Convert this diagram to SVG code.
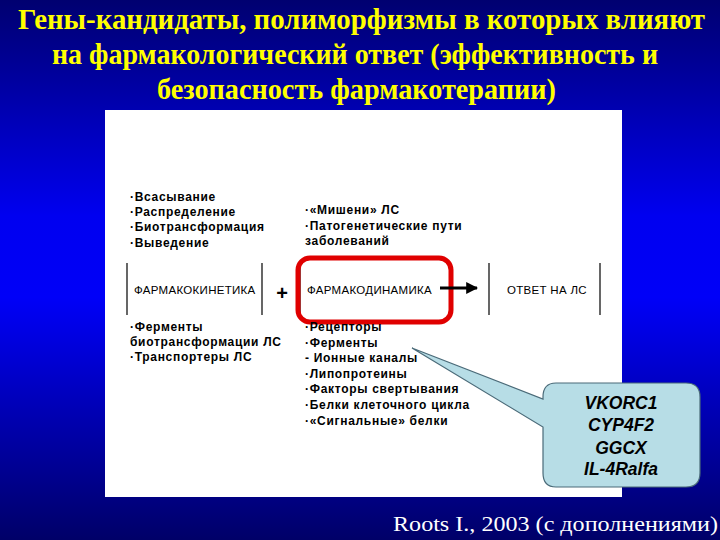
<svg xmlns="http://www.w3.org/2000/svg" width="720" height="540" viewBox="0 0 720 540">
<defs>
<linearGradient id="bg" x1="0" y1="0" x2="0" y2="1">
<stop offset="0" stop-color="#000070"/>
<stop offset="0.4" stop-color="#0000f0"/>
<stop offset="0.55" stop-color="#0000f8"/>
<stop offset="0.8" stop-color="#0000a8"/>
<stop offset="1" stop-color="#000068"/>
</linearGradient>
<marker id="ah" viewBox="0 0 10 10" refX="9" refY="5" markerWidth="4" markerHeight="4" orient="auto">
<path d="M0,0 L10,5 L0,10 z" fill="#000"/>
</marker>
<style>
.title{font-family:"Liberation Serif","Times New Roman",serif;font-weight:bold;font-size:29px;fill:#ffff00}
.b{font-family:"Liberation Sans",Arial,sans-serif;font-weight:bold;font-size:12px;letter-spacing:0.7px;fill:#000}
.n{font-family:"Liberation Sans",Arial,sans-serif;font-size:11.5px;letter-spacing:0.3px;fill:#000}
.vl{stroke:#000;stroke-width:1.2}
.gene{font-family:"Liberation Sans",Arial,sans-serif;font-weight:bold;font-style:italic;font-size:17.5px;fill:#000;text-anchor:middle}
.cite{font-family:"Liberation Serif","Times New Roman",serif;font-size:22px;fill:#fff}
</style>
</defs>
<rect width="720" height="540" fill="url(#bg)"/>
<g id="title">
<text class="title" x="18" y="29" textLength="687" lengthAdjust="spacingAndGlyphs">Гены-кандидаты, полиморфизмы в которых влияют</text>
<text class="title" x="52" y="64" textLength="606" lengthAdjust="spacingAndGlyphs">на фармакологический ответ (эффективность и</text>
<text class="title" x="157" y="99" textLength="399" lengthAdjust="spacingAndGlyphs">безопасность фармакотерапии)</text>
</g>
<rect id="panel" x="105" y="110" width="517" height="387" fill="#fff"/>
<g id="pk-top">
<text class="b" x="130" y="201">·Всасывание</text>
<text class="b" x="130" y="216">·Распределение</text>
<text class="b" x="130" y="231">·Биотрансформация</text>
<text class="b" x="130" y="247">·Выведение</text>
</g>
<g id="pd-top">
<text class="b" x="305" y="214">·«Мишени» ЛС</text>
<text class="b" x="305" y="230">·Патогенетические пути</text>
<text class="b" x="305" y="245">заболеваний</text>
</g>
<g id="lines">
<line class="vl" x1="127" y1="263" x2="127" y2="315"/>
<line class="vl" x1="262" y1="263" x2="262" y2="315"/>
<line class="vl" x1="300" y1="263" x2="300" y2="315"/>
<line class="vl" x1="489" y1="263" x2="489" y2="315"/>
<line class="vl" x1="600" y1="263" x2="600" y2="315"/>
</g>
<g id="pk">
<text class="n" x="134" y="294">ФАРМАКОКИНЕТИКА</text>
</g>
<g id="plus">
<text x="282" y="300" font-family="Liberation Sans,Arial,sans-serif" font-weight="bold" font-size="20" text-anchor="middle">+</text>
</g>
<g id="pd">
<rect x="298" y="258" width="153" height="64" rx="12" fill="none" stroke="#e00000" stroke-width="5"/>
<text class="n" x="307" y="294">ФАРМАКОДИНАМИКА</text>
</g>
<g id="resp">
<text class="n" x="507" y="294">ОТВЕТ НА ЛС</text>
</g>
<g id="connectors">
<line x1="440" y1="288" x2="477" y2="288" stroke="#000" stroke-width="3" marker-end="url(#ah)"/>
</g>
<g id="pk-bottom">
<text class="b" x="130" y="331">·Ферменты</text>
<text class="b" x="130" y="346">биотрансформации ЛС</text>
<text class="b" x="130" y="361">·Транспортеры ЛС</text>
</g>
<g id="pd-bottom">
<text class="b" x="305" y="331">·Рецепторы</text>
<text class="b" x="305" y="347">·Ферменты</text>
<text class="b" x="305" y="362">- Ионные каналы</text>
<text class="b" x="305" y="378">·Липопротеины</text>
<text class="b" x="305" y="393">·Факторы свертывания</text>
<text class="b" x="305" y="409">·Белки клеточного цикла</text>
<text class="b" x="305" y="425">·«Сигнальные» белки</text>
</g>
<g id="callout">
<path d="M556,383 H686 Q700,383 700,397 V473 Q700,487 686,487 H556 Q543,487 543,473 V427 L412,348 L543,399 V397 Q543,383 556,383 Z" fill="#b7dde6" stroke="#4a6a78" stroke-width="1.2"/>
<text class="gene" x="621" y="409">VKORC1</text>
<text class="gene" x="621" y="431">CYP4F2</text>
<text class="gene" x="621" y="454">GGCX</text>
<text class="gene" x="621" y="475">IL-4Ralfa</text>
</g>
<g id="cite">
<text class="cite" x="393" y="531" textLength="325" lengthAdjust="spacingAndGlyphs">Roots I., 2003 (с дополнениями)</text>
</g>
</svg>
